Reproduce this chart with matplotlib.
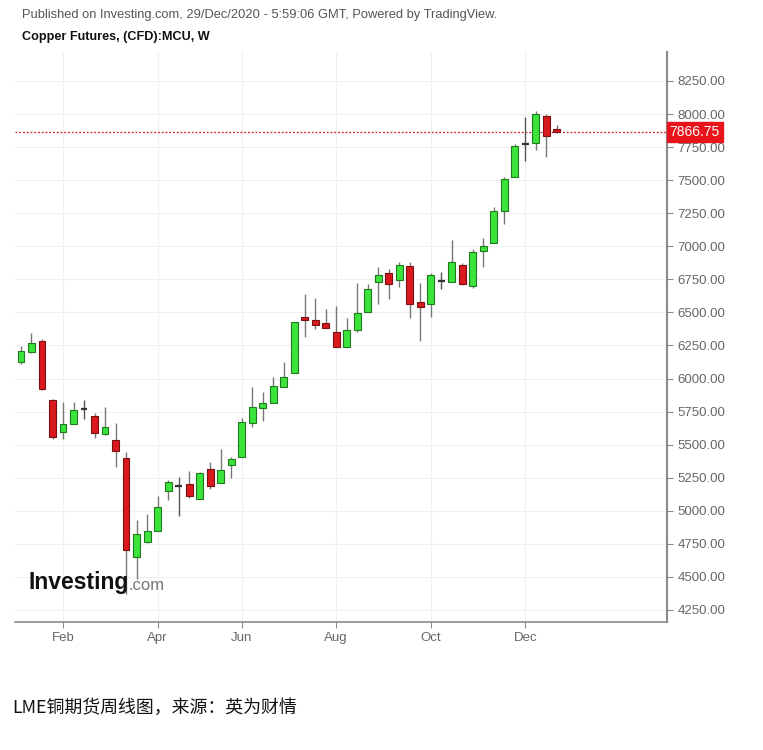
import numpy as np
import pandas as pd
from matplotlib import pyplot as plt

# weekly candles, Copper futures 2020
opens = [6125, 6201, 6284, 5838, 5596, 5656, 5762, 5717, 5581, 5535,
         5399, 4650, 4764, 4847, 5150, 5183, 5203, 5089, 5316, 5210,
         5346, 5407, 5664, 5777, 5815, 5936, 6042, 6465, 6443, 6420,
         6352, 6238, 6367, 6503, 6730, 6798, 6745, 6851, 6579, 6564,
         6733, 6730, 6859, 6700, 6964, 7025, 7267, 7524, 7768, 7781,
         7985, 7890]
highs = [6246, 6344, 6299, 5845, 5823, 5823, 5838, 5739, 5785, 5664,
         5444, 4930, 4976, 5112, 5233, 5255, 5301, 5293, 5369, 5467,
         5407, 5702, 5936, 5898, 6012, 6125, 6427, 6639, 6609, 6526,
         6549, 6458, 6722, 6715, 6843, 6828, 6881, 6881, 6722, 6798,
         6806, 7048, 6874, 6980, 7063, 7297, 7524, 7773, 7978, 8023,
         8000, 7917]
lows = [6110, 6195, 5915, 5543, 5543, 5656, 5694, 5550, 5575, 5331,
        4370, 4484, 4760, 4847, 5081, 4960, 5097, 5089, 5165, 5210,
        5248, 5407, 5634, 5679, 5815, 5936, 6042, 6314, 6375, 6382,
        6238, 6238, 6352, 6503, 6564, 6601, 6692, 6458, 6284, 6465,
        6677, 6730, 6707, 6685, 6843, 7025, 7169, 7524, 7645, 7728,
        7675, 7860]
closes = [6208, 6269, 5921, 5558, 5656, 5762, 5770, 5588, 5634, 5452,
          4703, 4824, 4847, 5029, 5218, 5190, 5112, 5286, 5187, 5308,
          5392, 5671, 5785, 5815, 5944, 6012, 6427, 6443, 6405, 6382,
          6238, 6367, 6496, 6677, 6783, 6715, 6859, 6564, 6541, 6783,
          6740, 6881, 6715, 6957, 7002, 7267, 7509, 7758, 7775, 8000,
          7834, 7866.75]
weeks = pd.date_range("2020-01-06", periods=len(opens), freq="W-MON")
last_price = 7866.75
y_ticks = np.arange(4250, 8251, 250)
caption = "LME铜期货周线图，来源：英为财情"

fig = plt.figure(figsize=(7.63, 7.5), dpi=100)
W, H = 763, 750
ax = fig.add_axes([15 / W, (H - 622) / H, (667 - 15) / W, (622 - 52) / H])

idx = np.arange(len(opens))
o = np.array(opens, float)
c = np.array(closes, float)
hi = np.array(highs, float)
lo = np.array(lows, float)

up_face, up_edge = "#3be33b", "#1f7a1f"
dn_face, dn_edge = "#d9191e", "#7a1010"

for i in idx:
    diff = abs(c[i] - o[i])
    if diff < 15:
        # doji: thin dark cross
        ax.vlines(i, lo[i], hi[i], color="#555555", lw=1, zorder=2)
        ax.hlines((o[i] + c[i]) / 2, i - 0.33, i + 0.33, color="#333333", lw=1.6, zorder=3)
        continue
    up = c[i] >= o[i]
    ax.vlines(i, lo[i], hi[i], color="#777777", lw=1, zorder=2)
    ax.bar(i, diff, bottom=min(o[i], c[i]), width=0.66,
           color=up_face if up else dn_face,
           edgecolor=up_edge if up else dn_edge, lw=0.8, zorder=3)

# current price line and tag
ax.axhline(last_price, color="#d9191e", lw=0.9, ls=(0, (1.5, 1.5)), zorder=1)
ax.text(1.004, last_price, f"{last_price:.2f}", transform=ax.get_yaxis_transform(),
        color="white", fontsize=10, va="center", ha="left", family="Liberation Sans",
        bbox=dict(boxstyle="square,pad=0.22", fc="#e8141b", ec="#e8141b"), zorder=5)

ax.set_xlim(-0.57, 61.5)
ax.set_ylim(4159, 8469)

# month ticks at first bar of each even month
months = weeks.month
tick_pos = [i for i in idx if (i == 0 or months[i] != months[i - 1]) and months[i] % 2 == 0]
ax.set_xticks(tick_pos)
ax.set_xticklabels([weeks[i].strftime("%b") for i in tick_pos])
ax.set_yticks(y_ticks)
ax.set_yticklabels([f"{v:.2f}" for v in y_ticks])
ax.yaxis.tick_right()

ax.grid(True, color="#f0f0f0", lw=0.8, zorder=0)
ax.set_axisbelow(True)
for s in ["top", "left"]:
    ax.spines[s].set_visible(False)
ax.spines["bottom"].set_color("#8a8a8a")
ax.spines["right"].set_color("#8a8a8a")
ax.spines["bottom"].set_linewidth(1.2)
ax.spines["right"].set_linewidth(1.5)
ax.tick_params(axis="both", colors="#8a8a8a", labelcolor="#666666", length=4)
for lab in ax.get_xticklabels() + ax.get_yticklabels():
    lab.set_family("Liberation Sans")
    lab.set_fontsize(9.5)

# header text
fig.text(22 / W, 1 - 15 / H, "Published on Investing.com, 29/Dec/2020 - 5:59:06 GMT, Powered by TradingView.",
         color="#555555", fontsize=9.3, va="center", ha="left", family="Liberation Sans")
fig.text(22 / W, 1 - 37 / H, "Copper Futures, (CFD):MCU, W",
         color="#111111", fontsize=9.1, weight="bold", va="center", ha="left", family="Liberation Sans")

# watermark logo
fig.text(28 / W, 1 - 583 / H, "Investing", color="#111111", fontsize=16.5, weight="bold",
         va="center", ha="left", family="Liberation Sans")
fig.text(128 / W, 1 - 586 / H, ".com", color="#777777", fontsize=12,
         va="center", ha="left", family="Liberation Sans")

# caption
fig.text(12 / W, 1 - 708 / H, caption, color="#111111", fontsize=12.9, va="center", ha="left",
         family=["Noto Sans CJK SC", "DejaVu Sans"])

fig.savefig("out.png", dpi=100)
